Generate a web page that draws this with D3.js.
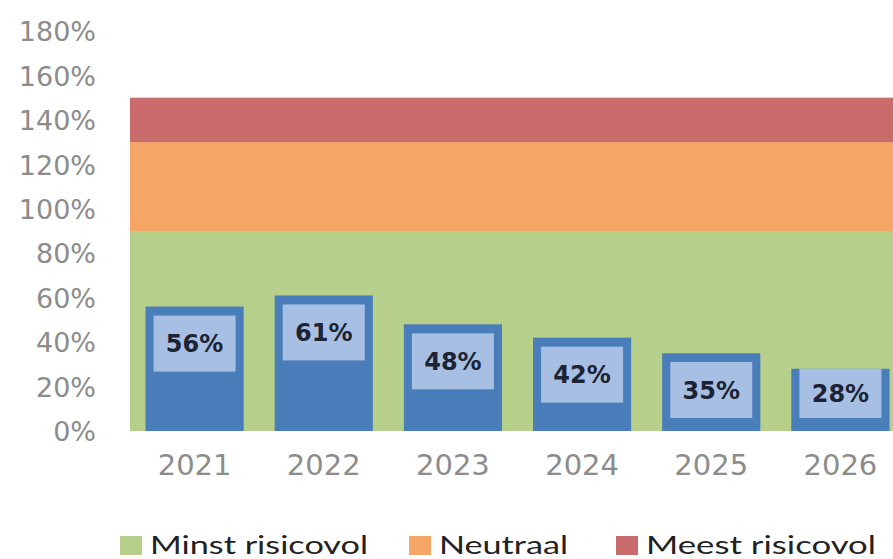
<!DOCTYPE html>
<html>
<head>
<meta charset="utf-8">
<script src="https://cdn.jsdelivr.net/npm/d3@7"></script>
<style>
  body { margin: 0; background: #fff; }
  svg { display: block; }
  .tick text { font-family: "DejaVu Sans", sans-serif; fill: #8c8c8c; }
  .lbl { font-family: "DejaVu Sans", sans-serif; font-weight: bold; fill: #1c2333; }
  .legend text { font-family: "Lato", "Open Sans", sans-serif; fill: #222; }
</style>
</head>
<body>
<svg id="chart"></svg>
<script>
var years = ['2021', '2022', '2023', '2024', '2025', '2026']
var values = [56, 61, 48, 42, 35, 28]
var zoneNames = ['Minst risicovol', 'Neutraal', 'Meest risicovol']
var zoneFrom = [0, 90, 130]
var zoneTo = [90, 130, 150]
var zoneColors = ['#b6cf8b', '#f5a566', '#c96c6b']
var yTicks = [0, 20, 40, 60, 80, 100, 120, 140, 160, 180]

var W = 893, H = 559
var svg = d3.select('#chart').attr('width', W).attr('height', H)

var x = d3.scaleBand().domain(years).range([130, 905]).paddingInner(0.24).paddingOuter(0.12)
var y = d3.scaleLinear().domain([0, 180]).range([431, 31])

// background zones
svg.append('g').selectAll('rect').data(zoneNames).join('rect')
  .attr('x', 130).attr('width', 905 - 130)
  .attr('y', (d, i) => y(zoneTo[i]))
  .attr('height', (d, i) => y(zoneFrom[i]) - y(zoneTo[i]))
  .attr('fill', (d, i) => zoneColors[i])

// y axis
var yAxis = svg.append('g').attr('transform', 'translate(96,0)')
  .call(d3.axisLeft(y).tickValues(yTicks).tickFormat(d => d + '%').tickSize(0).tickPadding(0))
yAxis.select('.domain').remove()
yAxis.selectAll('text').style('font-size', '27px').attr('dy', '0.36em')

// x axis
var xAxis = svg.append('g').attr('transform', 'translate(0,' + y(0) + ')')
  .call(d3.axisBottom(x).tickSize(0).tickPadding(23))
xAxis.select('.domain').remove()
xAxis.selectAll('text').style('font-size', '29px').attr('dy', '0.71em')

// bars
svg.append('g').selectAll('rect').data(values).join('rect')
  .attr('x', (d, i) => x(years[i]))
  .attr('width', x.bandwidth())
  .attr('y', d => y(d))
  .attr('height', d => y(0) - y(d))
  .attr('fill', '#4a7ebb')

// label boxes
var boxW = 82, boxH = 56
function boxTop(v) {
  var t = Math.min(y(v) + 9, y(0) - 13 - boxH)
  return Math.max(t, y(v))
}
function boxHt(v) { return Math.min(boxH, y(0) - 13 - boxTop(v)) }

var labels = svg.append('g').selectAll('g').data(values).join('g')
labels.append('rect')
  .attr('x', (d, i) => x(years[i]) + x.bandwidth() / 2 - boxW / 2)
  .attr('width', boxW)
  .attr('y', d => boxTop(d))
  .attr('height', d => boxHt(d))
  .attr('fill', '#a7bfe2')
labels.append('text').attr('class', 'lbl')
  .attr('x', (d, i) => x(years[i]) + x.bandwidth() / 2)
  .attr('y', d => boxTop(d) + boxHt(d) / 2)
  .attr('dy', '0.36em')
  .attr('text-anchor', 'middle')
  .style('font-size', '24px')
  .text(d => d + '%')

// legend
var legend = svg.append('g').attr('class', 'legend')
var legX = [120, 409, 616]
var legLen = [218, 129, 230]
zoneNames.forEach(function (name, i) {
  var g = legend.append('g').attr('transform', 'translate(' + legX[i] + ',536)')
  g.append('rect').attr('width', 22).attr('height', 19).attr('fill', zoneColors[i])
  g.append('text').attr('x', 30).attr('y', 18).style('font-size', '25px')
    .attr('textLength', legLen[i]).attr('lengthAdjust', 'spacingAndGlyphs')
    .text(name)
})
</script>
</body>
</html>
